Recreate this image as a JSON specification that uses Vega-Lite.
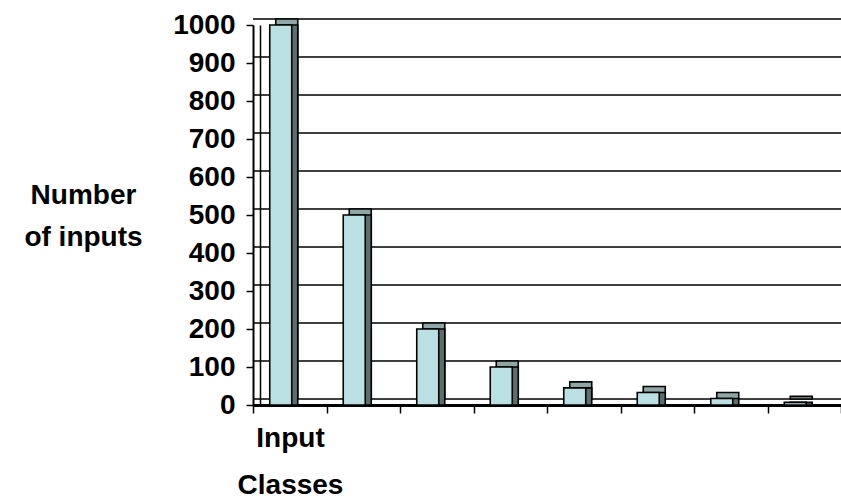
{
  "$schema": "https://vega.github.io/schema/vega-lite/v6.json",
  "width": 588,
  "height": 380,
  "autosize": {"type": "none"},
  "padding": {"left": 253, "top": 25, "right": 0, "bottom": 94},
  "background": "white",
  "config": {"view": {"stroke": null}, "font": "Liberation Sans"},
  "datasets": {
    "bars": [
      {"cls": "1", "n": 1000},
      {"cls": "2", "n": 500},
      {"cls": "3", "n": 200},
      {"cls": "4", "n": 100},
      {"cls": "5", "n": 45},
      {"cls": "6", "n": 33},
      {"cls": "7", "n": 17},
      {"cls": "8", "n": 7}
    ],
    "grid": [
      {"v": 0}, {"v": 100}, {"v": 200}, {"v": 300}, {"v": 400}, {"v": 500},
      {"v": 600}, {"v": 700}, {"v": 800}, {"v": 900}, {"v": 1000}
    ]
  },
  "resolve": {"axis": {"y": "independent"}},
  "layer": [
    {
      "data": {"name": "grid"},
      "mark": {"type": "rule", "color": "black", "strokeWidth": 1.5, "xOffset": 7, "yOffset": -6},
      "encoding": {
        "y": {
          "field": "v", "type": "quantitative",
          "scale": {"domain": [0, 1000], "nice": false},
          "axis": {"orient": "left", "offset": -7, "labels": false, "ticks": false, "grid": false, "title": null, "domainColor": "black", "domainWidth": 1.5}
        }
      }
    },
    {
      "data": {"name": "bars"},
      "layer": [
        {
          "mark": {"type": "bar", "width": 22, "xOffset": -3, "yOffset": -6, "y2Offset": -6, "color": "#8fa6a6", "stroke": "black", "strokeWidth": 1.6},
          "encoding": {}
        },
        {
          "mark": {"type": "bar", "width": 22, "xOffset": -3, "color": "#5c6e6e", "stroke": "black", "strokeWidth": 1.6},
          "encoding": {}
        },
        {
          "mark": {"type": "bar", "width": 22, "xOffset": -9, "color": "#bbe0e3", "stroke": "black", "strokeWidth": 1.6},
          "encoding": {}
        }
      ],
      "encoding": {
        "x": {
          "field": "cls", "type": "nominal", "sort": null,
          "scale": {"paddingInner": 0, "paddingOuter": 0},
          "axis": {
            "labels": false, "ticks": true, "tickBand": "extent", "tickSize": 8, "tickColor": "black", "tickWidth": 1.5,
            "domainColor": "black", "domainWidth": 3,
            "title": ["Input", "Classes"], "titleFont": "Liberation Sans", "titleFontSize": 28, "titleFontWeight": "bold",
            "titleX": 37, "titleY": 41, "titleAlign": "center", "titleBaseline": "alphabetic", "titleLineHeight": 47, "titleColor": "black"
          }
        },
        "y": {
          "field": "n", "type": "quantitative",
          "scale": {"domain": [0, 1000], "nice": false},
          "axis": {
            "orient": "left", "values": [0, 100, 200, 300, 400, 500, 600, 700, 800, 900, 1000], "format": "d",
            "grid": false, "tickSize": 7, "tickColor": "black", "tickWidth": 1.5, "labelPadding": 11,
            "labelFont": "Liberation Sans", "labelFontSize": 28, "labelFontWeight": "bold", "labelColor": "black",
            "domainColor": "black", "domainWidth": 2,
            "title": ["Number", "of inputs"], "titleFont": "Liberation Sans", "titleFontSize": 28, "titleFontWeight": "bold", "titleColor": "black",
            "titleAngle": 0, "titleX": -170, "titleY": 178, "titleAlign": "center", "titleBaseline": "alphabetic", "titleLineHeight": 42
          }
        }
      }
    }
  ]
}
